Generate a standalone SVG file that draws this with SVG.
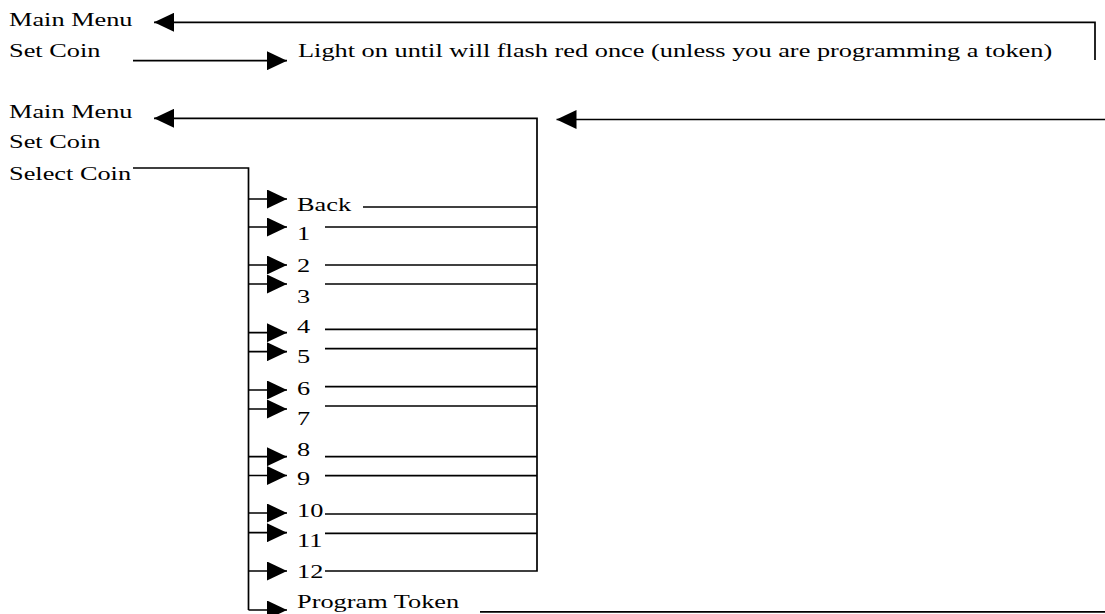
<svg xmlns="http://www.w3.org/2000/svg" width="1105" height="614" viewBox="0 0 1105 614">
  <defs>
    <style>
      .lbl { font-family: "Liberation Serif", "Times New Roman", serif; font-size: 19.8px; fill: #000; }
      .wire { stroke: #000; stroke-width: 1.7; fill: none; }
      .arr { stroke: #000; stroke-width: 1.7; fill: none; marker-end: url(#head); }
    </style>
    <marker id="head" markerUnits="userSpaceOnUse" markerWidth="20" markerHeight="19" refX="20" refY="9.5" orient="auto">
      <path d="M0,0 L20,9.5 L0,19 Z" fill="#000"/>
    </marker>
  </defs>
  <rect width="1105" height="614" fill="#fff"/>

  <!-- Connectors -->
  <g id="connectors">
    <!-- top menu: loop back to Main Menu -->
    <polyline class="arr" points="1095,60 1095,22.3 154,22.3"/>
    <line class="arr" x1="133" y1="60.7" x2="287" y2="60.7"/>

    <!-- Select Coin branch -->
    <polyline class="wire" points="133,168 248.5,168 248.5,610"/>
    <line class="arr" x1="248.5" y1="199" x2="287" y2="199"/>
    <line class="arr" x1="248.5" y1="227" x2="287" y2="227"/>
    <line class="arr" x1="248.5" y1="265" x2="287" y2="265"/>
    <line class="arr" x1="248.5" y1="284" x2="287" y2="284"/>
    <line class="arr" x1="248.5" y1="332.7" x2="287" y2="332.7"/>
    <line class="arr" x1="248.5" y1="351.7" x2="287" y2="351.7"/>
    <line class="arr" x1="248.5" y1="390" x2="287" y2="390"/>
    <line class="arr" x1="248.5" y1="409" x2="287" y2="409"/>
    <line class="arr" x1="248.5" y1="456.7" x2="287" y2="456.7"/>
    <line class="arr" x1="248.5" y1="475.5" x2="287" y2="475.5"/>
    <line class="arr" x1="248.5" y1="513" x2="287" y2="513"/>
    <line class="arr" x1="248.5" y1="532.7" x2="287" y2="532.7"/>
    <line class="arr" x1="248.5" y1="571" x2="287" y2="571"/>
    <line class="arr" x1="248.5" y1="610" x2="287" y2="610"/>

    <!-- return bus back to Main Menu -->
    <polyline class="arr" points="325,571 537,571 537,118.3 154,118.3"/>
    <line class="wire" x1="363" y1="207" x2="537" y2="207"/>
    <line class="wire" x1="325" y1="227" x2="537" y2="227"/>
    <line class="wire" x1="325" y1="265" x2="537" y2="265"/>
    <line class="wire" x1="325" y1="284" x2="537" y2="284"/>
    <line class="wire" x1="325" y1="329.3" x2="537" y2="329.3"/>
    <line class="wire" x1="325" y1="348.7" x2="537" y2="348.7"/>
    <line class="wire" x1="325" y1="386.7" x2="537" y2="386.7"/>
    <line class="wire" x1="325" y1="406" x2="537" y2="406"/>
    <line class="wire" x1="325" y1="456.7" x2="537" y2="456.7"/>
    <line class="wire" x1="325" y1="475.7" x2="537" y2="475.7"/>
    <line class="wire" x1="325" y1="514" x2="537" y2="514"/>
    <line class="wire" x1="325" y1="533.3" x2="537" y2="533.3"/>

    <!-- Program Token path -->
    <line class="wire" x1="480" y1="611.8" x2="1105" y2="611.8"/>
    <line class="arr" x1="1105" y1="119.5" x2="556.5" y2="119.5"/>
  </g>

  <!-- Nodes -->
  <g id="top-main-menu"><text class="lbl" transform="translate(9,26) scale(1.33,1)">Main Menu</text></g>
  <g id="top-set-coin"><text class="lbl" transform="translate(9,57) scale(1.33,1)">Set Coin</text></g>
  <g id="light-note"><text class="lbl" transform="translate(298,57) scale(1.33,1)">Light on until will flash red once (unless you are programming a token)</text></g>

  <g id="main-menu"><text class="lbl" transform="translate(9,118) scale(1.33,1)">Main Menu</text></g>
  <g id="set-coin"><text class="lbl" transform="translate(9,148) scale(1.33,1)">Set Coin</text></g>
  <g id="select-coin"><text class="lbl" transform="translate(9,180) scale(1.33,1)">Select Coin</text></g>

  <g id="opt-back"><text class="lbl" transform="translate(297,211) scale(1.33,1)">Back</text></g>
  <g id="opt-1"><text class="lbl" transform="translate(297,240) scale(1.33,1)">1</text></g>
  <g id="opt-2"><text class="lbl" transform="translate(297,272) scale(1.33,1)">2</text></g>
  <g id="opt-3"><text class="lbl" transform="translate(297,302.5) scale(1.33,1)">3</text></g>
  <g id="opt-4"><text class="lbl" transform="translate(297,333) scale(1.33,1)">4</text></g>
  <g id="opt-5"><text class="lbl" transform="translate(297,363) scale(1.33,1)">5</text></g>
  <g id="opt-6"><text class="lbl" transform="translate(297,395) scale(1.33,1)">6</text></g>
  <g id="opt-7"><text class="lbl" transform="translate(297,425) scale(1.33,1)">7</text></g>
  <g id="opt-8"><text class="lbl" transform="translate(297,455.7) scale(1.33,1)">8</text></g>
  <g id="opt-9"><text class="lbl" transform="translate(297,485) scale(1.33,1)">9</text></g>
  <g id="opt-10"><text class="lbl" transform="translate(297,517) scale(1.33,1)">10</text></g>
  <g id="opt-11"><text class="lbl" transform="translate(297,547) scale(1.33,1)">11</text></g>
  <g id="opt-12"><text class="lbl" transform="translate(297,578) scale(1.33,1)">12</text></g>
  <g id="opt-program-token"><text class="lbl" transform="translate(297,608) scale(1.33,1)">Program Token</text></g>
</svg>
